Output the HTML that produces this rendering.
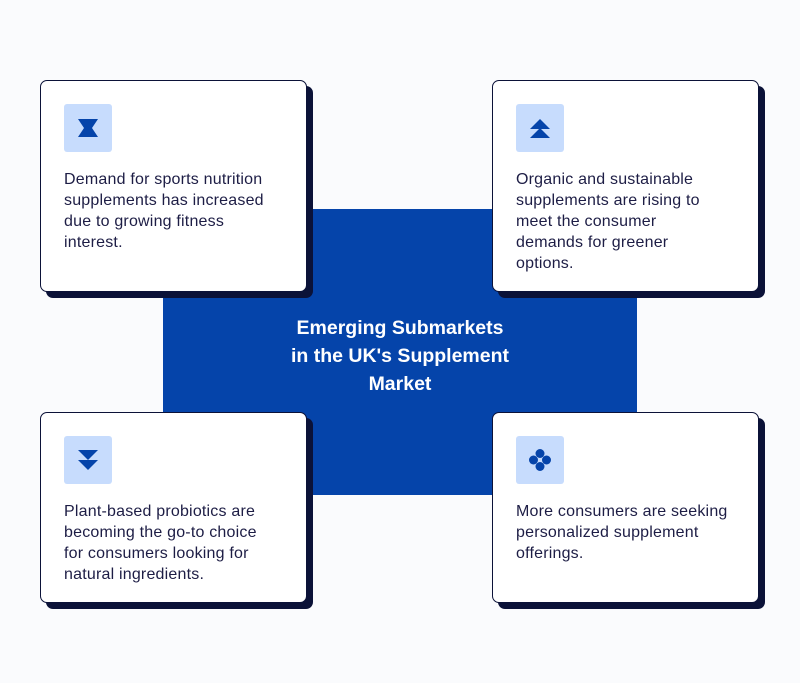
<!DOCTYPE html>
<html><head><meta charset="utf-8"><style>
body{margin:0;width:800px;height:683px;background:#fafbfd;position:relative;overflow:hidden;font-family:"Liberation Sans",sans-serif}
.center{position:absolute;left:163px;top:209px;width:474px;height:286px;background:#0544aa}
.title{position:absolute;left:163px;width:474px;top:314px;text-align:center;color:#fff;font-weight:bold;font-size:19.5px;line-height:28px}
.card{position:absolute;width:265px;background:#fff;border:1px solid #0b1238;border-radius:7px;box-shadow:6px 6px 0 #0b1238}
.icon{position:absolute;left:23px;top:23px;width:48px;height:48px;background:#c7dcfd;border-radius:3px}
.txt{position:absolute;left:23px;top:88px;white-space:nowrap;font-size:16px;line-height:21px;color:#1d1d45;letter-spacing:0.2px}
</style></head><body>
<div class="center"></div>
<div class="title">Emerging Submarkets<br>in the UK's Supplement<br>Market</div>

<div class="card" style="left:40px;top:80px;height:210px">
<div class="icon"><svg width="48" height="48"><path d="M14 15h20l-6 9 6 9H14l6-9z" fill="#0544aa"/></svg></div>
<div class="txt">Demand for sports nutrition<br>supplements has increased<br>due to growing fitness<br>interest.</div></div>

<div class="card" style="left:492px;top:80px;height:210px">
<div class="icon"><svg width="48" height="48"><path d="M24 15l10 10H14zM24 24l10 10H14z" fill="#0544aa"/></svg></div>
<div class="txt">Organic and sustainable<br>supplements are rising to<br>meet the consumer<br>demands for greener<br>options.</div></div>

<div class="card" style="left:40px;top:412px;height:189px">
<div class="icon"><svg width="48" height="48"><path d="M14 14h20l-10 10zM14 24h20l-10 10z" fill="#0544aa"/></svg></div>
<div class="txt">Plant-based probiotics are<br>becoming the go-to choice<br>for consumers looking for<br>natural ingredients.</div></div>

<div class="card" style="left:492px;top:412px;height:189px">
<div class="icon"><svg width="48" height="48" fill="#0544aa"><circle cx="24" cy="17.5" r="4.5"/><circle cx="24" cy="30.5" r="4.5"/><circle cx="17.5" cy="24" r="4.5"/><circle cx="30.5" cy="24" r="4.5"/></svg></div>
<div class="txt">More consumers are seeking<br>personalized supplement<br>offerings.</div></div>
</body></html>
